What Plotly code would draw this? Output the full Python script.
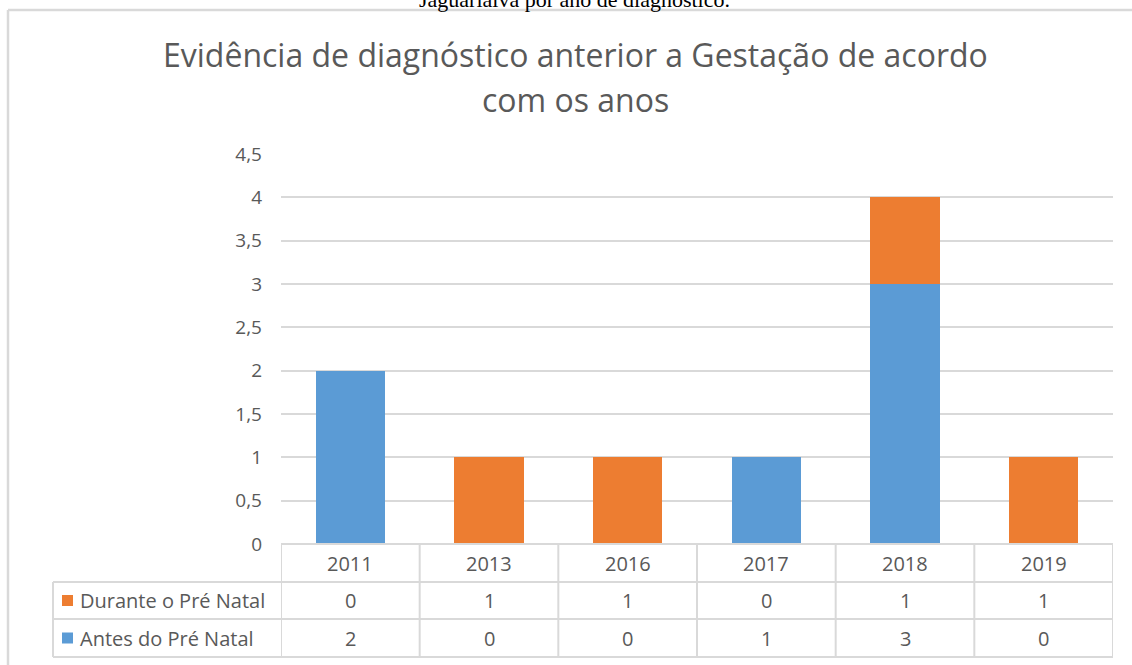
import plotly.graph_objects as go

# ---- data ----
years = ["2011", "2013", "2016", "2017", "2018", "2019"]
antes = [2, 0, 0, 1, 3, 0]          # Antes do Pré Natal
durante = [0, 1, 1, 0, 1, 1]        # Durante o Pré Natal
name_durante = "Durante o Pré Natal"
name_antes = "Antes do Pré Natal"
title_lines = ["Evidência de diagnóstico anterior a Gestação de acordo", "com os anos"]
caption = "Jaguariaíva por ano de diagnóstico."
ytick_vals = [0, 0.5, 1, 1.5, 2, 2.5, 3, 3.5, 4, 4.5]
ytick_text = ["0", "0,5", "1", "1,5", "2", "2,5", "3", "3,5", "4", "4,5"]

# ---- layout geometry (pixels) ----
W, H = 1132, 665
L, R, T, B = 281, 1113, 154, 544
BLUE = "#5B9BD5"
ORANGE = "#ED7D31"
GRID = "#D9D9D9"
TXT = "#595959"
FONT = "Open Sans"


def xp(px):
    return (px - L) / (R - L)


def yp(py):
    return (B - py) / (B - T)


fig = go.Figure()
fig.add_trace(go.Bar(x=years, y=antes, name=name_antes, marker_color=BLUE,
                     marker_line_width=0))
fig.add_trace(go.Bar(x=years, y=durante, name=name_durante, marker_color=ORANGE,
                     marker_line_width=0))

shapes = []
# outer chart frame
shapes.append(dict(type="line", xref="paper", yref="paper", x0=xp(8), x1=xp(W + 5),
                   y0=yp(10), y1=yp(10), line=dict(color=GRID, width=2.5)))
shapes.append(dict(type="line", xref="paper", yref="paper", x0=xp(8), x1=xp(8),
                   y0=yp(10), y1=yp(H + 5), line=dict(color=GRID, width=2.5)))

row_top, row1_top, row2_top, row_bot = B, 582, 619, 657
tbl_left = 53
# horizontal table lines
for py in (row1_top, row2_top, row_bot):
    shapes.append(dict(type="line", xref="paper", yref="paper", x0=xp(tbl_left), x1=1,
                       y0=yp(py), y1=yp(py), line=dict(color=GRID, width=2)))
shapes.append(dict(type="line", xref="paper", yref="paper", x0=0, x1=1,
                   y0=0, y1=0, line=dict(color=GRID, width=2)))
# vertical table lines at category boundaries
for i in range(len(years) + 1):
    shapes.append(dict(type="line", xref="x", yref="paper", x0=i - 0.5, x1=i - 0.5,
                       y0=0, y1=yp(row_bot), line=dict(color=GRID, width=2)))
shapes.append(dict(type="line", xref="paper", yref="paper", x0=xp(tbl_left), x1=xp(tbl_left),
                   y0=yp(row1_top), y1=yp(row_bot), line=dict(color=GRID, width=2)))
# legend keys
for (yc, col) in (((row1_top + row2_top) / 2, ORANGE), ((row2_top + row_bot) / 2, BLUE)):
    shapes.append(dict(type="rect", xref="paper", yref="paper", x0=xp(62), x1=xp(73),
                       y0=yp(yc - 5.5), y1=yp(yc + 5.5), fillcolor=col, line=dict(width=0)))

ann = []
tfont = dict(family=FONT, size=20, color=TXT)
for i, yr in enumerate(years):
    ann.append(dict(x=i, xref="x", y=yp((row_top + row1_top) / 2), yref="paper", text=yr,
                    showarrow=False, font=tfont, xanchor="center", yanchor="middle"))
    ann.append(dict(x=i, xref="x", y=yp((row1_top + row2_top) / 2), yref="paper",
                    text=str(durante[i]), showarrow=False, font=tfont,
                    xanchor="center", yanchor="middle"))
    ann.append(dict(x=i, xref="x", y=yp((row2_top + row_bot) / 2), yref="paper",
                    text=str(antes[i]), showarrow=False, font=tfont,
                    xanchor="center", yanchor="middle"))
ann.append(dict(x=xp(78), xref="paper", y=yp((row1_top + row2_top) / 2), yref="paper",
                text=name_durante, showarrow=False, font=tfont, xanchor="left", yanchor="middle"))
ann.append(dict(x=xp(78), xref="paper", y=yp((row2_top + row_bot) / 2), yref="paper",
                text=name_antes, showarrow=False, font=tfont, xanchor="left", yanchor="middle"))
# title lines
ann.append(dict(x=xp(575), xref="paper", y=yp(54), yref="paper", text=title_lines[0],
                showarrow=False, font=dict(family=FONT, size=32, color=TXT),
                xanchor="center", yanchor="middle"))
ann.append(dict(x=xp(575), xref="paper", y=yp(99), yref="paper", text=title_lines[1],
                showarrow=False, font=dict(family=FONT, size=32, color=TXT),
                xanchor="center", yanchor="middle"))
# cut-off caption above the chart (partly outside the picture, as in the reference)
ann.append(dict(x=xp(574), xref="paper", y=yp(14), yref="paper", text=caption,
                showarrow=False, font=dict(family="Liberation Serif", size=22, color="#000000"),
                xanchor="center", yanchor="bottom"))

fig.update_layout(
    width=W, height=H,
    margin=dict(l=L, r=W - R, t=T, b=H - B, pad=0),
    paper_bgcolor="white", plot_bgcolor="white",
    barmode="stack", bargap=0.5,
    showlegend=False,
    shapes=shapes, annotations=ann,
    xaxis=dict(type="category", range=[-0.5, len(years) - 0.5], showticklabels=False,
               showgrid=False, showline=False, zeroline=False, ticks=""),
    yaxis=dict(range=[0, 4.5], tickvals=ytick_vals, ticktext=ytick_text,
               showgrid=True, gridcolor=GRID, gridwidth=2, zeroline=False,
               showline=False, ticks="", ticklabelstandoff=18,
               tickfont=dict(family=FONT, size=19, color=TXT)),
)

fig.write_html("out.html", config={"displayModeBar": False},
               post_script="document.body.style.margin='0';")
